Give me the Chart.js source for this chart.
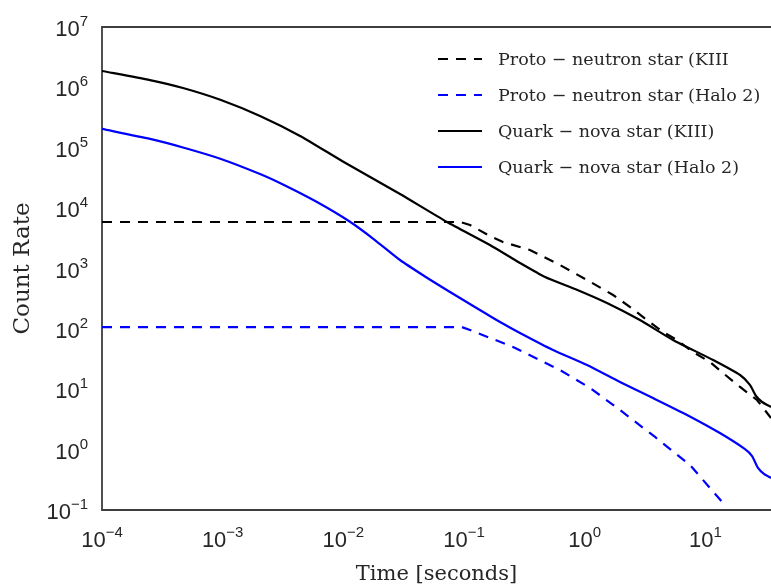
<!DOCTYPE html>
<html>
<head>
<meta charset="utf-8">
<title>Count rate vs time</title>
<script src="https://cdn.jsdelivr.net/npm/chart.js@4.4.1/dist/chart.umd.min.js"></script>
<style>
  html, body { margin: 0; padding: 0; background: #fff; }
  #wrap { width: 771px; height: 587px; }
</style>
</head>
<body>
<div id="wrap"><canvas id="chart" width="771" height="587"></canvas></div>
<script>
// values (time in seconds, count rate)
const pnsKiiiTime = [1e-4, 0.0927, 0.112, 0.164, 0.210, 0.352, 0.624, 1.045, 1.72, 2.38, 3.28, 4.46, 5.82, 7.90, 10.9, 14.0, 19.4, 26.8, 35];
const pnsKiiiRate = [5890, 5890, 5260, 3450, 2750, 2020, 1143, 645, 364, 230, 140, 88.7, 65.4, 41.4, 28.3, 18.6, 10.9, 6.64, 3.34];

const pnsHaloTime = [1e-4, 0.0962, 0.112, 0.255, 0.624, 1.11, 1.96, 3.83, 7.46, 14.0];
const pnsHaloRate = [107, 107, 95.8, 50.1, 20.8, 10.5, 4.53, 1.62, 0.556, 0.131];

const qnKiiiTime = [1e-4, 2.50e-4, 4.69e-4, 9.68e-4, 2.04e-3, 4.38e-3, 9.75e-3, 0.0295, 0.0723, 0.164, 0.291, 0.469, 0.832, 1.53, 2.87, 5.40, 11.6, 19.4, 23.4, 26.3, 29.5, 35];
const qnKiiiRate = [1.87e6, 1.32e6, 9.77e5, 6.18e5, 3.36e5, 1.57e5, 6.04e4, 1.71e4, 5890, 2450, 1233, 723, 457, 268, 140, 65.4, 30.5, 17.2, 11.8, 7.73, 6.15, 5.08];

const qnHaloTime = [1e-4, 2.50e-4, 4.69e-4, 9.68e-4, 2.04e-3, 3.16e-3, 6.05e-3, 0.01135, 0.01827, 0.0295, 0.0475, 0.0766, 0.123, 0.199, 0.291, 0.546, 1.045, 1.96, 3.68, 7.05, 13.2, 21.3, 24.4, 27.3, 30.6, 35];
const qnHaloRate = [2.05e5, 1.40e5, 1.01e5, 6.52e4, 3.67e4, 2.46e4, 1.26e4, 5940, 2965, 1383, 738, 408, 230, 130, 85.5, 44.7, 25.2, 13.2, 7.16, 3.75, 1.88, 1.02, 0.783, 0.497, 0.395, 0.339];

const seriesLabels = [
  'Proto \u2212 neutron star (KIII',
  'Proto \u2212 neutron star (Halo 2)',
  'Quark \u2212 nova star (KIII)',
  'Quark \u2212 nova star (Halo 2)'
];

const xTicks = [1e-4, 1e-3, 1e-2, 1e-1, 1e0, 1e1];
const yTicks = [1e-1, 1e0, 1e1, 1e2, 1e3, 1e4, 1e5, 1e6, 1e7];

function pts(xs, ys){ return xs.map((x, i) => ({x: x, y: ys[i]})); }

const DASH = [10, 8];
const TEXT = '#262626';
const BASE_FONT = '22px "Liberation Sans", Arial, sans-serif';
const EXP_FONT = '15px "Liberation Sans", Arial, sans-serif';

// spines: top, left, bottom (right one is cut off in the reference)
const spines = {
  id: 'spines',
  beforeDatasetsDraw(chart){
    const {ctx, chartArea: a} = chart;
    ctx.save();
    ctx.strokeStyle = '#3d3d3d';
    ctx.lineWidth = 1.8;
    ctx.beginPath();
    ctx.moveTo(a.right, a.top); ctx.lineTo(a.left, a.top);
    ctx.lineTo(a.left, a.bottom); ctx.lineTo(a.right, a.bottom);
    ctx.stroke();
    ctx.restore();
  }
};

// 10^n tick labels with a real raised exponent
const powTicks = {
  id: 'powTicks',
  afterDraw(chart){
    const ctx = chart.ctx;
    ctx.save();
    ctx.fillStyle = TEXT;
    ctx.textBaseline = 'alphabetic';
    ctx.textAlign = 'left';
    function parts(v){
      const e = Math.round(Math.log10(v));
      return ['10', (e < 0 ? '\u2212' : '') + Math.abs(e)];
    }
    function widths(b, e){
      ctx.font = BASE_FONT; const wb = ctx.measureText(b).width;
      ctx.font = EXP_FONT; const we = ctx.measureText(e).width;
      return [wb, we];
    }
    function put(b, e, left, baseline, wb){
      ctx.font = BASE_FONT; ctx.fillText(b, left, baseline);
      ctx.font = EXP_FONT; ctx.fillText(e, left + wb, baseline - 10);
    }
    const sx = chart.scales.x, sy = chart.scales.y;
    sx.ticks.forEach(t => {
      const [b, e] = parts(t.value);
      const [wb, we] = widths(b, e);
      const px = sx.getPixelForValue(t.value);
      put(b, e, px - (wb + we) / 2, sx.top + 37, wb);
    });
    sy.ticks.forEach(t => {
      const [b, e] = parts(t.value);
      const [wb, we] = widths(b, e);
      const py = sy.getPixelForValue(t.value);
      put(b, e, sy.right - 14 - wb - we, py + 9, wb);
    });
    ctx.restore();
  }
};

// legend in the top right corner, no frame
const legendBox = {
  id: 'legendBox',
  afterDraw(chart){
    const ctx = chart.ctx;
    ctx.save();
    ctx.font = '17.5px "DejaVu Serif"';
    ctx.textBaseline = 'middle';
    chart.data.datasets.forEach((ds, i) => {
      const y = 59 + i * 36;
      ctx.beginPath();
      ctx.setLineDash(ds.borderDash || []);
      ctx.strokeStyle = ds.borderColor;
      ctx.lineWidth = ds.borderWidth;
      ctx.moveTo(438, y); ctx.lineTo(482, y);
      ctx.stroke();
      ctx.setLineDash([]);
      ctx.fillStyle = TEXT;
      ctx.fillText(ds.label, 498, y + 1);
    });
    ctx.restore();
  }
};

const line = (label, data, color, dash, tension) => ({
  label: label,
  data: data,
  borderColor: color,
  borderWidth: 2.2,
  borderDash: dash,
  pointRadius: 0,
  fill: false,
  tension: tension
});

new Chart(document.getElementById('chart'), {
  type: 'line',
  data: {
    datasets: [
      line(seriesLabels[0], pts(pnsKiiiTime, pnsKiiiRate), '#000000', DASH, 0),
      line(seriesLabels[1], pts(pnsHaloTime, pnsHaloRate), '#0000ff', DASH, 0),
      line(seriesLabels[2], pts(qnKiiiTime, qnKiiiRate), '#000000', [], 0.2),
      line(seriesLabels[3], pts(qnHaloTime, qnHaloRate), '#0000ff', [], 0.2)
    ]
  },
  options: {
    responsive: false,
    animation: false,
    events: [],
    layout: { padding: { top: 27, right: 0, bottom: 0, left: 0 } },
    plugins: { legend: { display: false }, tooltip: { enabled: false } },
    scales: {
      x: {
        type: 'logarithmic',
        min: 1e-4,
        max: 35,
        grid: { display: false, drawTicks: false },
        border: { display: false },
        afterBuildTicks: s => { s.ticks = xTicks.map(v => ({value: v})); },
        afterFit: s => { s.height = 77; },
        ticks: { display: false },
        title: {
          display: true,
          text: 'Time [seconds]',
          color: TEXT,
          font: { family: '"DejaVu Serif"', size: 21 },
          padding: { top: 0, bottom: 0 }
        }
      },
      y: {
        type: 'logarithmic',
        min: 1e-1,
        max: 1e7,
        grid: { display: false, drawTicks: false },
        border: { display: false },
        afterBuildTicks: s => { s.ticks = yTicks.map(v => ({value: v})); },
        afterFit: s => { s.width = 102; },
        ticks: { display: false },
        title: {
          display: true,
          text: 'Count Rate',
          color: TEXT,
          font: { family: '"DejaVu Serif"', size: 23 },
          padding: { top: 9, bottom: 0 }
        }
      }
    }
  },
  plugins: [spines, powTicks, legendBox]
});
</script>
</body>
</html>
